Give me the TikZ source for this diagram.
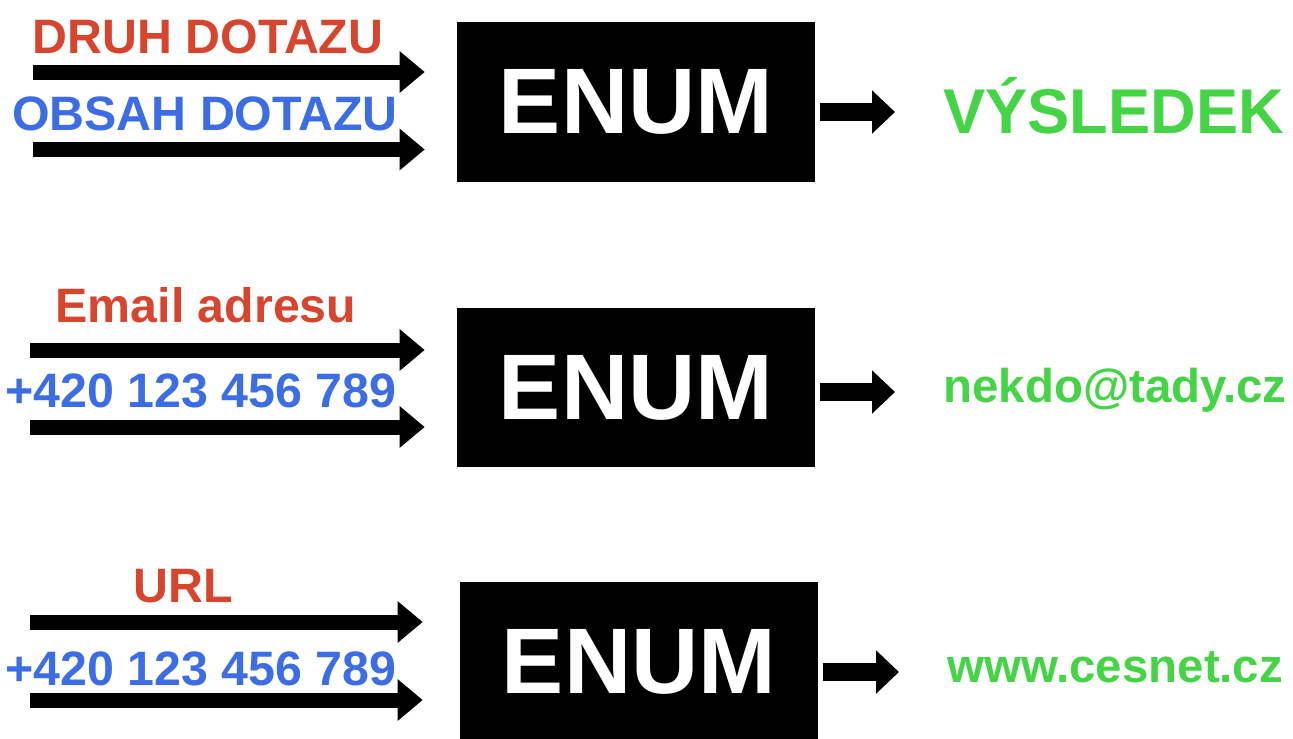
\documentclass[tikz,border=0pt]{standalone}
\usepackage{fontspec}
\setmainfont{Liberation Sans}
\usetikzlibrary{positioning,arrows.meta}

\definecolor{dotazred}{HTML}{D8452F}
\definecolor{dotazblue}{HTML}{3C6DE4}
\definecolor{vysledekgreen}{HTML}{45D445}

\begin{document}
\begin{tikzpicture}[x=0.02cm,y=-0.02cm,
		enumbox/.style={fill=black,text=white,inner sep=0,
			minimum width=7.16cm,minimum height=3.2cm,
			font=\fontsize{53}{60}\bfseries\selectfont},
		lbl/.style={anchor=base,inner sep=0,
			font=\fontsize{27.5}{30}\bfseries\selectfont},
		res/.style={anchor=base west,inner sep=0,text=vysledekgreen,
			font=\fontsize{27}{30}\bfseries\selectfont},
		inarrow/.style={line width=0.3cm,shorten >=0.64cm,
			-{Triangle[length=0.5cm,width=0.8cm]}},
		outarrow/.style={line width=0.36cm,shorten >=0.96cm,
			-{Triangle[length=0.46cm,width=0.84cm]}}]
		\useasboundingbox (0,0) rectangle (1293,738);

		% row 1
		\node[enumbox] (enum1) at (636,102) {ENUM};
		\node[lbl,text=dotazred] (kind1) at (208,53) {DRUH DOTAZU};
		\node[lbl,text=dotazblue] (what1) at (205,130) {OBSAH DOTAZU};
		\node[res,font=\fontsize{36}{40}\bfseries\selectfont] (res1) at (943,133) {VÝSLEDEK};

		% row 2
		\node[enumbox] (enum2) at (636,387.5) {ENUM};
		\node[lbl,text=dotazred] (kind2) at (206,322) {Email adresu};
		\node[lbl,text=dotazblue] (what2) at (201,407) {+420 123 456 789};
		\node[res] (res2) at (943,402) {nekdo@tady.cz};

		% row 3
		\node[enumbox] (enum3) at (639,662) {ENUM};
		\node[lbl,text=dotazred] (kind3) at (183,602) {URL};
		\node[lbl,text=dotazblue] (what3) at (201,685) {+420 123 456 789};
		\node[res] (res3) at (947,682) {www.cesnet.cz};

		\coordinate (in1a) at (33,72);
		\coordinate (in1b) at (33,149.5);
		\coordinate (in2a) at (30,350);
		\coordinate (in2b) at (30,427);
		\coordinate (in3a) at (30,622);
		\coordinate (in3b) at (30,700);

		\coordinate (out1) at (820,112);
		\coordinate (out2) at (820,392);
		\coordinate (out3) at (823,672);

		\draw[inarrow] (in1a) -- (in1a -| enum1.west);
		\draw[inarrow] (in1b) -- (in1b -| enum1.west);
		\draw[inarrow] (in2a) -- (in2a -| enum2.west);
		\draw[inarrow] (in2b) -- (in2b -| enum2.west);
		\draw[inarrow,shorten >=0.74cm] (in3a) -- (in3a -| enum3.west);
		\draw[inarrow,shorten >=0.74cm] (in3b) -- (in3b -| enum3.west);

		\draw[outarrow] (out1) -- (out1 -| res1.west);
		\draw[outarrow] (out2) -- (out2 -| res2.west);
		\draw[outarrow] (out3) -- (out3 -| res3.west);
\end{tikzpicture}
\end{document}
